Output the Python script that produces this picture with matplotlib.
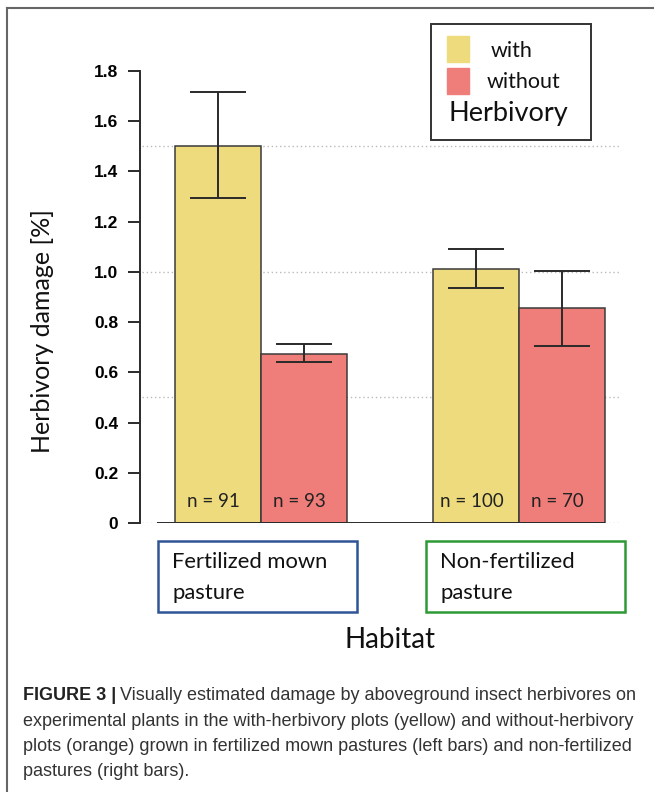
import numpy as np
import matplotlib
matplotlib.use("Agg")
import matplotlib.pyplot as plt
from matplotlib.patches import Rectangle

## Data
habitats = [["Fertilized mown", "pasture"], ["Non-fertilized", "pasture"]]
with_mean = [1.50, 1.01]
with_lo = [1.295, 0.935]
with_hi = [1.715, 1.093]
without_mean = [0.675, 0.855]
without_lo = [0.640, 0.703]
without_hi = [0.712, 1.003]
n_with = [91, 100]
n_without = [93, 70]
yticks = [0, 0.2, 0.4, 0.6, 0.8, 1.0, 1.2, 1.4, 1.6, 1.8]
ytick_labels = ["0", "0.2", "0.4", "0.6", "0.8", "1.0", "1.2", "1.4", "1.6", "1.8"]
grid_levels = [0, 0.5, 1.0, 1.5]
caption = ["Visually estimated damage by aboveground insect herbivores on",
           "experimental plants in the with-herbivory plots (yellow) and without-herbivory",
           "plots (orange) grown in fertilized mown pastures (left bars) and non-fertilized",
           "pastures (right bars)."]

YELLOW = "#EDDB7D"
RED = "#EF7E7B"
DARK = "#2a2a2a"
SANS = ["Lato", "DejaVu Sans"]
NARROW = ["Liberation Sans Narrow", "Liberation Sans", "DejaVu Sans"]

W, H = 654, 792
fig = plt.figure(figsize=(W/100, H/100), dpi=100)

def px(x, y):
    return x/W, 1 - y/H

# main axes: y axis at x=140px, 0 at y=523px, 1.8 at y=71px
l, b = px(140, 523)
ax = fig.add_axes([l, b, (620-140)/W, (523-71)/H])
ax.set_xlim(-0.907, 4.674)
ax.set_ylim(0, 1.8)

x_with = np.array([0, 3])
x_without = x_with + 1

ax.hlines(grid_levels, -0.88, 4.674, colors="#bbbbbb", linestyles=(0, (1, 2)), lw=1, zorder=0)

ax.bar(x_with, with_mean, width=1.0, color=YELLOW, edgecolor="#3a3a3a", lw=1.1, zorder=2)
ax.bar(x_without, without_mean, width=1.0, color=RED, edgecolor="#3a3a3a", lw=1.1, zorder=2)

for xs, m, lo, hi in [(x_with, with_mean, with_lo, with_hi),
                      (x_without, without_mean, without_lo, without_hi)]:
    m = np.array(m)
    err = [m - np.array(lo), np.array(hi) - m]
    ax.errorbar(xs, m, yerr=err, fmt="none", ecolor=DARK, elinewidth=1.4,
                capsize=20, capthick=1.4, zorder=3)

ax.hlines(0, -0.71, 4.5, colors=DARK, lw=1.4, zorder=4)

for xs, ns in [(x_with, n_with), (x_without, n_without)]:
    for x, n in zip(xs, ns):
        ax.text(x - 0.05, 0.084, f"n = {n}", ha="center", va="center",
                fontsize=13.5, family=SANS, color="#222222", zorder=5)

for s in ["top", "right", "bottom"]:
    ax.spines[s].set_visible(False)
ax.spines["left"].set_color(DARK)
ax.spines["left"].set_linewidth(1.4)
ax.set_xticks([])
ax.set_yticks(yticks)
ax.set_yticklabels(ytick_labels, fontsize=12.5, fontweight="bold", family=NARROW)
ax.tick_params(axis="y", length=8.6, width=1.4, color=DARK, pad=7)

fig.text(*px(43, 331), "Herbivory damage [%]", rotation=90, ha="center", va="center",
         fontsize=18, family=SANS, color="#111111")

# habitat boxes under the bar groups
for x0, ec, label in [(158, "#2F5597", habitats[0]), (426, "#2E9A36", habitats[1])]:
    fig.add_artist(Rectangle(px(x0, 612), 199/W, 71/H, transform=fig.transFigure,
                             fill=False, ec=ec, lw=1.8))
    fig.text(*px(x0 + 14, 562), label[0], ha="left", va="center", fontsize=15.8,
             family=SANS, color="#111111")
    fig.text(*px(x0 + 14, 593), label[1], ha="left", va="center", fontsize=15.8,
             family=SANS, color="#111111")

fig.text(*px(390, 640), "Habitat", ha="center", va="center", fontsize=20,
         family=SANS, color="#111111")

# legend box
fig.add_artist(Rectangle(px(431, 140), 160/W, 116/H, transform=fig.transFigure,
                         fill=True, fc="white", ec="#333333", lw=1.4))
fig.add_artist(Rectangle(px(447, 62), 22/W, 26/H, transform=fig.transFigure, color=YELLOW))
fig.add_artist(Rectangle(px(447, 94), 22/W, 26/H, transform=fig.transFigure, color=RED))
fig.text(*px(491, 51), "with", ha="left", va="center", fontsize=15.5, family=SANS, color="#111111")
fig.text(*px(487, 82), "without", ha="left", va="center", fontsize=15.5, family=SANS, color="#111111")
fig.text(*px(508, 114), "Herbivory", ha="center", va="center", fontsize=19.5, family=SANS, color="#111111")

# figure frame (left and top edges)
fig.add_artist(plt.Line2D([7/W, 7/W], [0, 1 - 8/H], transform=fig.transFigure, color="#666666", lw=1.5))
fig.add_artist(plt.Line2D([7/W, 1], [1 - 8/H, 1 - 8/H], transform=fig.transFigure, color="#666666", lw=1.5))

# caption
fig.canvas.draw()
r = fig.canvas.get_renderer()
head = fig.text(*px(23, 695), "FIGURE 3 |", ha="left", va="center", fontsize=13,
                fontweight="bold", family=NARROW, color="#222222")
bb = head.get_window_extent(renderer=r)
fig.text((bb.x1 + 4)/W, 1 - 695/H, caption[0], ha="left", va="center", fontsize=13,
         family=NARROW, color="#333333")
for i, line in enumerate(caption[1:]):
    fig.text(*px(23, 721 + 25.3*i), line, ha="left", va="center", fontsize=13,
             family=NARROW, color="#333333")

fig.savefig("out.png", dpi=100)
